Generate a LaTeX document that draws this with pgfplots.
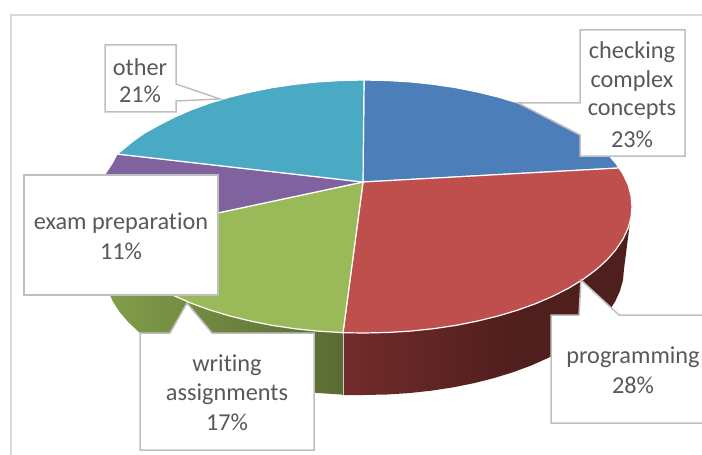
\documentclass[border=0pt]{standalone}
\usepackage{fontspec}
\setmainfont[Ligatures=CommonOff]{Carlito}
\usepackage{pgfplots}
\pgfplotsset{compat=1.18}
\definecolor{cblue}{HTML}{4C7EBA}
\definecolor{cred}{HTML}{BE4F4C}
\definecolor{cgreen}{HTML}{9ABA59}
\definecolor{cpurple}{HTML}{80629F}
\definecolor{cteal}{HTML}{4AA9C3}
\definecolor{boxedge}{HTML}{BFBFBF}
\definecolor{frameedge}{HTML}{D9D9D9}
\definecolor{txt}{HTML}{595959}
\pgfdeclarehorizontalshading{redwall}{100bp}{rgb(0bp)=(0.45,0.17,0.17); rgb(25bp)=(0.45,0.17,0.17); rgb(55bp)=(0.31,0.12,0.115); rgb(100bp)=(0.31,0.12,0.115)}
\pgfdeclarehorizontalshading{greenwall}{100bp}{rgb(0bp)=(0.51,0.62,0.29); rgb(25bp)=(0.51,0.62,0.29); rgb(75bp)=(0.35,0.42,0.20); rgb(100bp)=(0.35,0.42,0.20)}
\tikzset{lab/.style={font=\fontsize{24.3bp}{29bp}\selectfont, text=txt, inner sep=0pt}}
\begin{document}
\begin{tikzpicture}
\begin{axis}[
  name=ax,
  scale only axis, width=702bp, height=455bp,
  xmin=0, xmax=702, ymin=0, ymax=455, y dir=reverse,
  hide axis,
]
% chart frame
\addplot[frameedge, line width=1.5bp] coordinates {(11,455) (11,15) (702,15)};
% side walls
\addplot[draw=none, shade, shading=greenwall] coordinates {
 (105,237) (343,332) (343,395) (341.3,394.5) (318.9,393.1) (296.7,390.7) (275.1,387.4) (254.1,383.2) (234,378.1)
 (214.9,372.2) (196.8,365.5) (180.2,358.1) (164.8,350) (151,341.3) (138.8,332) (128.4,322.2)
 (119.7,312.1) (112.9,301.6) (108,290.9) (105,280) (104,269)} --cycle;
\addplot[draw=none, shade, shading=redwall] coordinates {
 (632,206.5) (624,269) (623,280) (620,290.9) (615.1,301.6) (608.3,312.1) (599.6,322.2) (589.2,332) (577,341.3)
 (563.2,350) (547.8,358.1) (531.2,365.5) (513.1,372.2) (494,378.1) (473.9,383.2) (452.9,387.4)
 (431.3,390.7) (409.1,393.1) (386.7,394.5) (364,395) (343,395) (343,332)} --cycle;
\addplot[white!80!black, line width=0.8bp] coordinates {(343,333) (343,395)};
% top: checking complex concepts 23%
\addplot[fill=cblue, draw=white, line width=1.2bp] coordinates {
 (363,182) (364,80) (387.4,80.5) (410.5,81.9) (433.4,84.3) (455.7,87.6) (477.3,91.9) (498,97) (517.7,102.9)
 (536.3,109.6) (553.5,117.1) (569.3,125.2) (583.5,133.9) (596.1,143.3) (606.9,153) (615.8,163.2) (619,168)} --cycle;
% programming 28%
\addplot[fill=cred, draw=white, line width=1.2bp] coordinates {
 (363,182) (619,168) (622.9,173.8) (628,184.5) (631,195.5) (632,206.5) (631,217.5) (628,228.5) (622.9,239.2)
 (615.8,249.8) (606.9,260) (596.1,269.7) (583.5,279.1) (569.3,287.8) (553.5,295.9) (536.3,303.4)
 (517.7,310.1) (498,316) (477.3,321.1) (455.7,325.4) (433.4,328.7) (410.5,331.1) (387.4,332.5) (364,333) (343,332.7)} --cycle;
% writing assignments 17%
\addplot[fill=cgreen, draw=white, line width=1.2bp] coordinates {
 (363,182) (343,332.7) (340.6,332.5) (317.5,331.1) (294.6,328.7) (272.3,325.4) (250.7,321.1) (230,316) (210.3,310.1)
 (191.7,303.4) (174.5,295.9) (158.7,287.8) (144.5,279.1) (131.9,269.7) (121.1,260) (112.2,249.8) (105.1,239.2) (105,237)} --cycle;
% exam preparation 11%
\addplot[fill=cpurple, draw=white, line width=1.2bp] coordinates {
 (363,182) (105,237) (100,228.5) (97,217.5) (96,206.5) (97,195.5) (100,184.5) (105.1,173.8) (112.2,163.2) (117,154)} --cycle;
% other 21%
\addplot[fill=cteal, draw=white, line width=1.2bp] coordinates {
 (363,182) (117,154) (121.1,151) (131.9,142) (144.5,133) (158.7,125.2) (174.5,117.1) (191.7,109.6) (210.3,102.9)
 (230,97) (250.7,91.9) (272.3,87.6) (294.6,84.3) (317.5,81.9) (340.6,80.5) (364,80)} --cycle;
% callouts
\addplot[fill=white, draw=boxedge, line width=1.5bp] coordinates {(580,30) (685,30) (685,156) (580,156) (580,135) (518,103) (580,103)} --cycle;
\addplot[fill=white, draw=boxedge, line width=1.5bp] coordinates {(105,45) (176,45) (176,84) (220,99) (176,101) (176,112) (105,112)} --cycle;
\addplot[fill=white, draw=boxedge, line width=1.5bp] coordinates {(24,175) (218,175) (218,295) (24,295)} --cycle;
\addplot[fill=white, draw=boxedge, line width=1.5bp] coordinates {(140,333) (170,333) (187,303) (212,333) (314,333) (314,450) (140,450)} --cycle;
\addplot[fill=white, draw=boxedge, line width=1.5bp] coordinates {(551,315) (579,315) (581,280) (619,315) (712,315) (712,423) (551,423)} --cycle;
% labels
\node[lab] at (axis cs:632,52) {checking};
\node[lab] at (axis cs:632,81) {complex};
\node[lab] at (axis cs:632,110) {concepts};
\node[lab] at (axis cs:632,139) {23\%};
\node[lab] at (axis cs:140,67) {other};
\node[lab] at (axis cs:140,94) {21\%};
\node[lab] at (axis cs:121,223) {exam preparation};
\node[lab] at (axis cs:121,251) {11\%};
\node[lab] at (axis cs:227,365) {writing};
\node[lab] at (axis cs:227,394) {assignments};
\node[lab] at (axis cs:227,422) {17\%};
\node[lab] at (axis cs:633,357) {programming};
\node[lab] at (axis cs:633,385) {28\%};
\end{axis}
\pgfresetboundingbox
\path[use as bounding box] (ax.south west) rectangle (ax.north east);
\end{tikzpicture}
\end{document}
